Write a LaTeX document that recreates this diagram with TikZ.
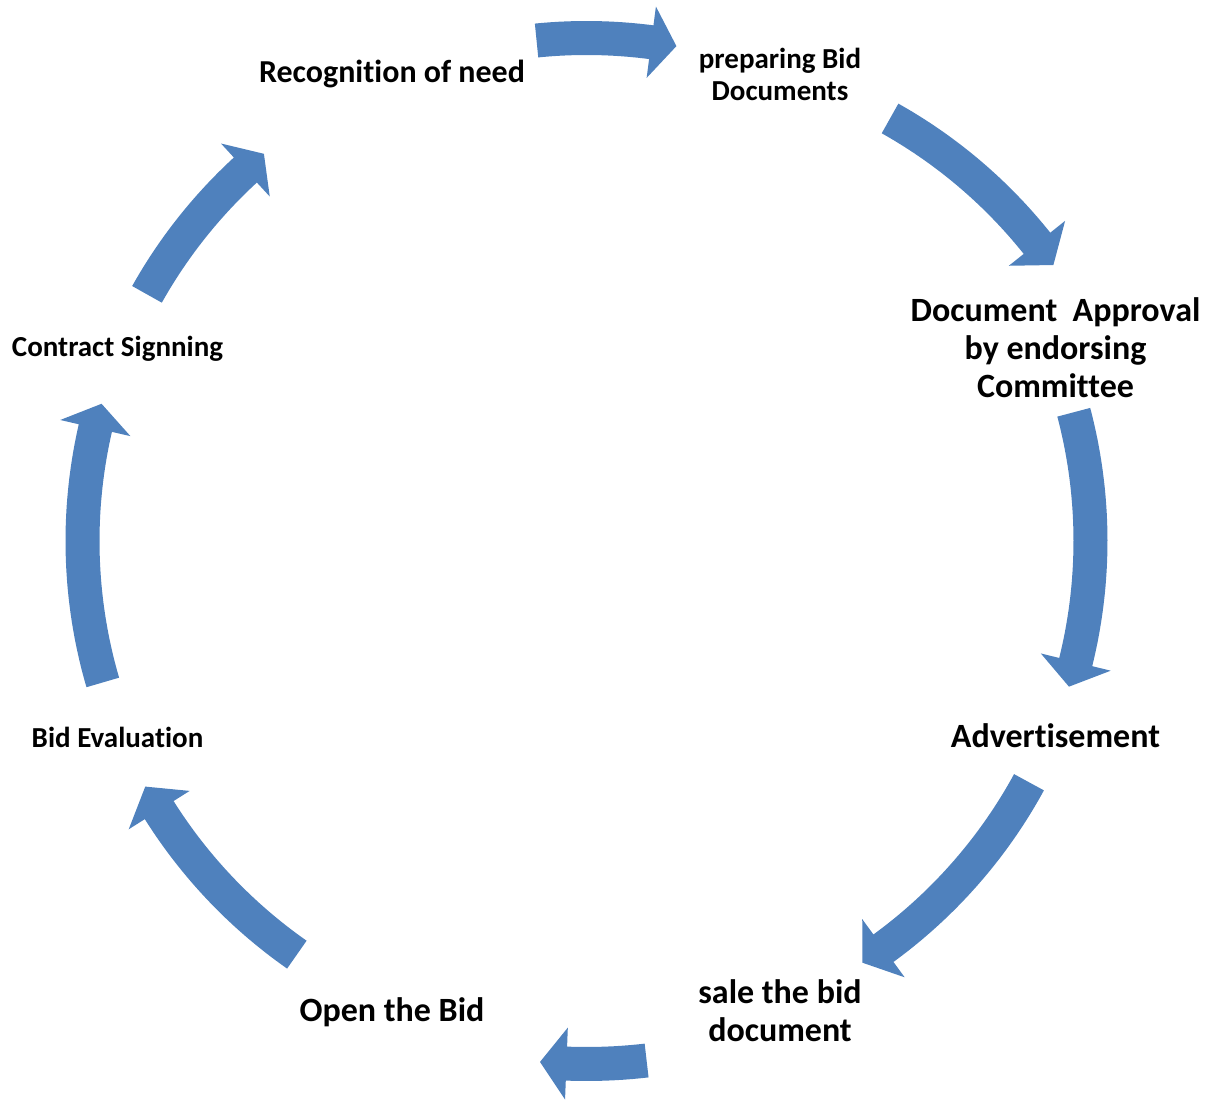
\documentclass[tikz,border=0pt]{standalone}
\usepackage{fontspec}
\setmainfont[Ligatures=NoCommon]{Carlito}
\definecolor{cycleblue}{RGB}{79,129,189}

% Curved block arrow on a circle:
% #1,#2 centre, #3 mid radius, #4 tail angle, #5 head base angle, #6 tip angle
\newcommand{\cyarrow}[6]{%
  \fill[arrowfill]
    plot[domain=#4:#5, samples=40] ({#1+(#3+17)*cos(\x)}, {#2+(#3+17)*sin(\x)})
    -- ({#1+(#3+36)*cos(#5)}, {#2+(#3+36)*sin(#5)})
    -- ({#1+#3*cos(#6)}, {#2+#3*sin(#6)})
    -- ({#1+(#3-36)*cos(#5)}, {#2+(#3-36)*sin(#5)})
    -- plot[domain=#5:#4, samples=40] ({#1+(#3-17)*cos(\x)}, {#2+(#3-17)*sin(\x)})
    -- cycle;}

\tikzset{
  arrowfill/.style={fill=cycleblue, draw=none},
  lbl/.style={align=center, inner sep=0pt, text=black},
  txtbig/.style={font=\fontsize{19.35pt}{21.6pt}\selectfont\bfseries},
  txtmid/.style={font=\fontsize{18.2pt}{20.5pt}\selectfont\bfseries},
  txtsmall/.style={font=\fontsize{16.5pt}{18.2pt}\selectfont\bfseries},
}

\begin{document}
\begin{tikzpicture}[x=0.02cm, y=0.02cm]
  \useasboundingbox (0,0) rectangle (1221,1100);

  % stage labels
  \node[lbl, txtmid]   (need)    at (392,1026)   {Recognition of need};
  \node[lbl, txtsmall] (prep)    at (780,1026)   {preparing Bid\\Documents};
  \node[lbl, txtbig]   (approve) at (1055.5,752) {Document\ \ Approval\\by endorsing\\Committee};
  \node[lbl, txtbig]   (advert)  at (1055.5,364) {Advertisement};
  \node[lbl, txtbig]   (sale)    at (780,89)     {sale the bid\\document};
  \node[lbl, txtbig]   (open)    at (392,87.5)   {Open the Bid};
  \node[lbl, txtsmall] (eval)    at (117.5,363)  {Bid Evaluation};
  \node[lbl, txtsmall] (sign)    at (117.5,751)  {Contract Signning};

  % clockwise arrows between the stages
  \cyarrow{586.5}{559}{503}{95.7}{82.6}{79.7}
  \cyarrow{643.9}{542.9}{503}{60.7}{38.6}{35.5}
  \cyarrow{586.5}{559}{504}{14.8}{-13.9}{-16.8}
  \cyarrow{586.5}{559}{504}{-28.6}{-53.9}{-56.8}
  \cyarrow{586.5}{559}{523}{-83.4}{-92.2}{-95.1}
  \cyarrow{586.5}{559}{505}{235}{212.2}{209.1}
  \cyarrow{586.5}{559}{504}{196.3}{167.05}{164.2}
  \cyarrow{586.5}{559}{504}{150.7}{132.6}{129.8}
\end{tikzpicture}
\end{document}
